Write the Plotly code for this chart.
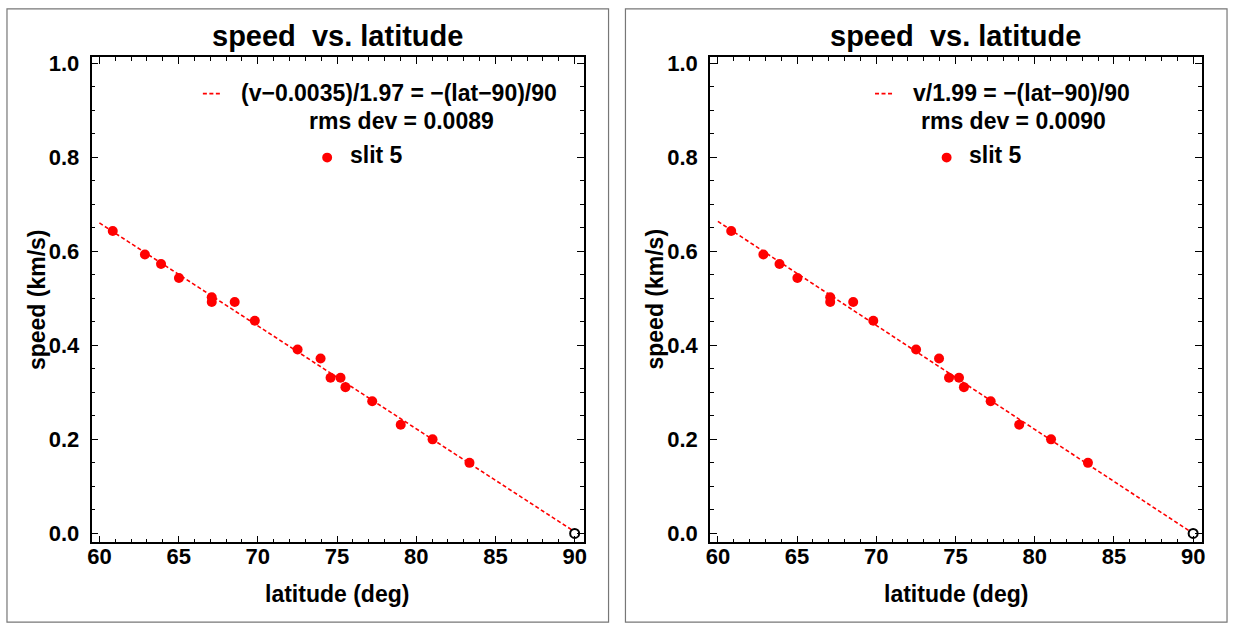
import plotly.graph_objects as go

# ---- data ----
latitude = [60.84, 62.87, 63.89, 65.02, 67.09, 67.09, 68.54, 69.81, 72.51, 73.96,
            74.59, 75.22, 75.53, 77.22, 79.02, 81.03, 83.36]
speed = [0.643, 0.593, 0.573, 0.543, 0.502, 0.492, 0.492, 0.452, 0.391, 0.372,
         0.331, 0.331, 0.311, 0.281, 0.231, 0.200, 0.150]
pole_lat = [90.0]
pole_speed = [0.0]

# fit lines: v = offset + scale * (90 - lat) / 90
fit_lat = [60.0, 90.0]
fit_left = {"offset": 0.0035, "scale": 1.97}
fit_right = {"offset": 0.0, "scale": 1.99}

titles = ["speed\u00a0 vs. latitude", "speed\u00a0 vs. latitude"]
fit_labels = ["(v\u22120.0035)/1.97 = \u2212(lat\u221290)/90", "v/1.99 = \u2212(lat\u221290)/90"]
rms_labels = ["rms dev = 0.0089", "rms dev = 0.0090"]
series_label = "slit 5"
x_title = "latitude (deg)"
y_title = "speed (km/s)"

W, H = 1234, 629
RED = "#ff0000"
FONT = "Liberation Sans, Arial, sans-serif"


def px(x):
    return x / W


def py(y):
    return 1 - y / H


fig = go.Figure()

panels = [
    {"xa": "x", "ya": "y", "fit": fit_left, "dx": 0},
    {"xa": "x2", "ya": "y2", "fit": fit_right, "dx": 622},
]

for i, p in enumerate(panels):
    f = p["fit"]
    fit_v = [f["offset"] + f["scale"] * (90 - la) / 90 for la in fit_lat]
    fig.add_trace(go.Scatter(x=fit_lat, y=fit_v, mode="lines",
                             line=dict(color=RED, width=1.6, dash="4px,2.5px"),
                             xaxis=p["xa"], yaxis=p["ya"], showlegend=False))
    fig.add_trace(go.Scatter(x=latitude, y=speed, mode="markers",
                             marker=dict(color=RED, size=10, line=dict(width=0)),
                             xaxis=p["xa"], yaxis=p["ya"], showlegend=False))
    fig.add_trace(go.Scatter(x=pole_lat, y=pole_speed, mode="markers",
                             marker=dict(color="white", size=9,
                                         line=dict(color="black", width=2)),
                             xaxis=p["xa"], yaxis=p["ya"], showlegend=False))

axis_common = dict(
    showgrid=False, zeroline=False, showline=True, linecolor="black", linewidth=1.5,
    mirror="allticks", ticks="inside", ticklen=7, tickwidth=1.2, tickcolor="black",
    tickfont=dict(family=FONT, size=22, color="black", weight="bold"),
)

y0, y1 = py(545), py(52)
for i, p in enumerate(panels):
    dx = p["dx"]
    xname = "xaxis" if i == 0 else "xaxis2"
    yname = "yaxis" if i == 0 else "yaxis2"
    fig.layout[xname] = dict(
        axis_common, domain=[px(88 + dx), px(583 + dx)], range=[59.5, 90.57],
        anchor=p["ya"], tick0=60, dtick=5,
        minor=dict(ticks="inside", dtick=1, ticklen=4, tickwidth=1, tickcolor="black"),
        ticklabelstandoff=-6,
    )
    fig.layout[yname] = dict(
        axis_common, domain=[y0, y1], range=[-0.019, 1.0126],
        anchor=p["xa"], tick0=0, dtick=0.2, tickformat=".1f",
        minor=dict(ticks="inside", dtick=0.05, ticklen=4, tickwidth=1, tickcolor="black"),
        ticklabelstandoff=6,
    )

annotations = []
shapes = []
for i, p in enumerate(panels):
    dx = p["dx"]
    annotations.append(dict(text=titles[i], x=px(335 + dx), y=py(30), xref="paper", yref="paper",
                            showarrow=False, xanchor="center", yanchor="middle",
                            font=dict(family=FONT, size=29, color="black", weight="bold")))
    annotations.append(dict(text=x_title, x=px(335 + dx), y=py(598), xref="paper", yref="paper",
                            showarrow=False, xanchor="center", yanchor="middle",
                            font=dict(family=FONT, size=23, color="black", weight="bold")))
    annotations.append(dict(text=y_title, x=px(33 + dx), y=py(298), xref="paper", yref="paper",
                            showarrow=False, xanchor="center", yanchor="middle", textangle=-90,
                            font=dict(family=FONT, size=23, color="black", weight="bold")))
    fx0 = 3 if i == 0 else 625
    fx1 = 608 if i == 0 else 1230
    shapes.append(dict(type="rect", xref="paper", yref="paper",
                       x0=px(fx0), x1=px(fx1), y0=py(626), y1=py(3),
                       line=dict(color="#777777", width=1.2)))

legend_pos = [
    {"dash": (200, 218), "t1": 236, "t2": 305, "dot": 325, "t3": 346},
    {"dash": (876, 894), "t1": 912, "t2": 920, "dot": 948, "t3": 968},
]
lf = dict(family=FONT, size=23, color="black", weight="bold")
for i, lp in enumerate(legend_pos):
    shapes.append(dict(type="line", xref="paper", yref="paper",
                       x0=px(lp["dash"][0]), x1=px(lp["dash"][1]), y0=py(89), y1=py(89),
                       line=dict(color=RED, width=1.8, dash="4px,2.5px")))
    shapes.append(dict(type="circle", xref="paper", yref="paper",
                       x0=px(lp["dot"] - 5), x1=px(lp["dot"] + 5),
                       y0=py(154 + 5), y1=py(154 - 5),
                       fillcolor=RED, line=dict(width=0)))
    annotations.append(dict(text=fit_labels[i], x=px(lp["t1"]), y=py(88), xref="paper", yref="paper",
                            showarrow=False, xanchor="left", yanchor="middle", font=lf))
    annotations.append(dict(text=rms_labels[i], x=px(lp["t2"]), y=py(117), xref="paper", yref="paper",
                            showarrow=False, xanchor="left", yanchor="middle", font=lf))
    annotations.append(dict(text=series_label, x=px(lp["t3"]), y=py(151), xref="paper", yref="paper",
                            showarrow=False, xanchor="left", yanchor="middle", font=lf))

fig.update_layout(
    width=W, height=H, margin=dict(l=0, r=0, t=0, b=0),
    paper_bgcolor="white", plot_bgcolor="white",
    showlegend=False, annotations=annotations, shapes=shapes,
)

fig.write_html("out.html", config={"displayModeBar": False},
               post_script="document.body.style.margin='0';document.body.style.overflow='hidden';")
